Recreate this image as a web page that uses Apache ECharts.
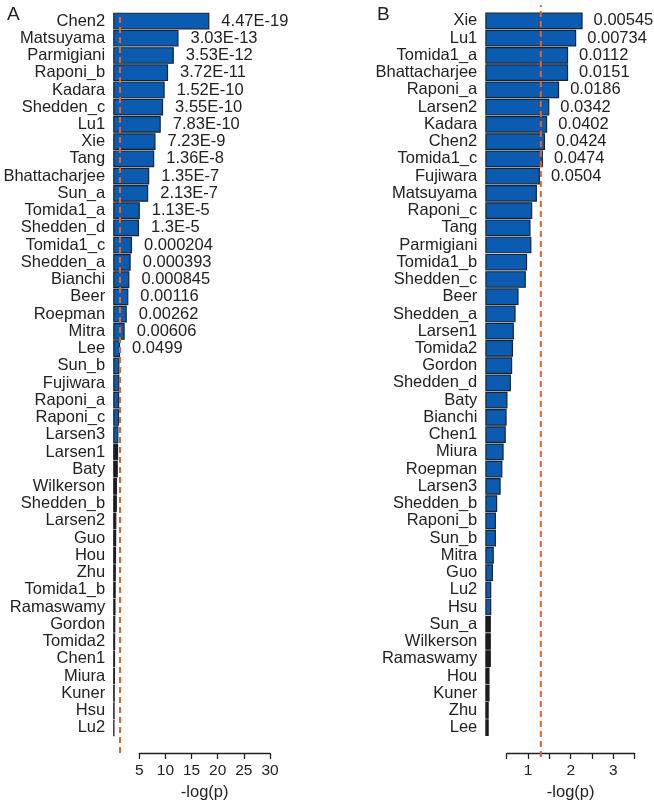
<!DOCTYPE html>
<html>
<head>
<meta charset="utf-8">
<script src="https://cdn.jsdelivr.net/npm/echarts@6/dist/echarts.min.js"></script>
<style>
html,body{margin:0;padding:0;background:#fff;}
#chart{width:654px;height:806px;}
</style>
</head>
<body>
<div id="chart"></div>
<script>
// ---- Panel A data ----
const categoriesA = ["Chen2","Matsuyama","Parmigiani","Raponi_b","Kadara","Shedden_c","Lu1","Xie","Tang","Bhattacharjee","Sun_a","Tomida1_a","Shedden_d","Tomida1_c","Shedden_a","Bianchi","Beer","Roepman","Mitra","Lee","Sun_b","Fujiwara","Raponi_a","Raponi_c","Larsen3","Larsen1","Baty","Wilkerson","Shedden_b","Larsen2","Guo","Hou","Zhu","Tomida1_b","Ramaswamy","Gordon","Tomida2","Chen1","Miura","Kuner","Hsu","Lu2"];
const valuesA = [18.4,12.5,11.6,10.5,9.85,9.55,9.1,8.1,7.85,6.9,6.7,5.1,4.95,3.6,3.35,3.1,2.9,2.6,2.2,1.32,1.2,1.18,1.15,1.13,1.0,0.95,0.88,0.72,0.7,0.6,0.58,0.55,0.5,0.48,0.45,0.4,0.38,0.36,0.34,0.3,0.28,0.25];
const pLabelsA = ["4.47E-19","3.03E-13","3.53E-12","3.72E-11","1.52E-10","3.55E-10","7.83E-10","7.23E-9","1.36E-8","1.35E-7","2.13E-7","1.13E-5","1.3E-5","0.000204","0.000393","0.000845","0.00116","0.00262","0.00606","0.0499"];
const blueCountA = 25;
const ticksA = {min:5, max:30, interval:5};

// ---- Panel B data ----
const categoriesB = ["Xie","Lu1","Tomida1_a","Bhattacharjee","Raponi_a","Larsen2","Kadara","Chen2","Tomida1_c","Fujiwara","Matsuyama","Raponi_c","Tang","Parmigiani","Tomida1_b","Shedden_c","Beer","Shedden_a","Larsen1","Tomida2","Gordon","Shedden_d","Baty","Bianchi","Chen1","Miura","Roepman","Larsen3","Shedden_b","Raponi_b","Sun_b","Mitra","Guo","Lu2","Hsu","Sun_a","Wilkerson","Ramaswamy","Hou","Kuner","Zhu","Lee"];
const valuesB = [2.28,2.13,1.94,1.94,1.73,1.5,1.45,1.4,1.35,1.28,1.21,1.1,1.06,1.08,0.98,0.95,0.78,0.71,0.67,0.65,0.63,0.6,0.52,0.5,0.48,0.43,0.4,0.36,0.28,0.25,0.25,0.2,0.18,0.14,0.14,0.13,0.13,0.13,0.1,0.1,0.08,0.08];
const pLabelsB = ["0.00545","0.00734","0.0112","0.0151","0.0186","0.0342","0.0402","0.0424","0.0474","0.0504"];
const blueCountB = 35;
const ticksB = {min:0.5, max:3.5, interval:0.5};

const threshold = 1.301; // -log10(0.05)
const axisTitle = "-log(p)";

// ---- styling ----
const FONT = "Liberation Sans, Arial, Helvetica, sans-serif";
const BLUE = "#0b5cb0";
const BLACK = "#1c1c1c";
const EDGE = "#1a2430";
const DASH = "#e0642e";
const TXT = "#222";

function barData(vals, blueCount){
  return vals.map((v,i)=>({value:v, itemStyle:{color: i<blueCount?BLUE:BLACK, borderColor: i<blueCount?EDGE:BLACK}}));
}

const chart = echarts.init(document.getElementById('chart'), null, {renderer:'canvas'});

const gA = {left:113.2, right:384, top:12.4, height:724};
const gB = {left:485.3, right:19.3, top:12.3, height:724};

const option = {
  animation:false,
  backgroundColor:'#fff',
  title:[
    {text:'A', left:2, top:0, textStyle:{fontFamily:FONT, fontSize:19, fontWeight:'normal', color:TXT}},
    {text:'B', left:372, top:0, textStyle:{fontFamily:FONT, fontSize:19, fontWeight:'normal', color:TXT}}
  ],
  grid:[
    gA,
    {left:139.3, right:384, top:12, bottom:806-757},
    {left:gA.left, right:gA.right, top:12.7, bottom:806-753},
    gB,
    {left:506.7, right:19.3, top:12, bottom:806-757},
    {left:gB.left, right:gB.right, top:5, bottom:806-757}
  ],
  xAxis:[
    {gridIndex:0, type:'value', min:0, max:30, show:false},
    {gridIndex:1, type:'value', min:ticksA.min, max:ticksA.max, interval:ticksA.interval,
     axisLine:{show:true, lineStyle:{color:TXT, width:1.3}},
     axisTick:{show:true, inside:false, length:6, lineStyle:{color:TXT, width:1.3}},
     axisLabel:{show:true, margin:10, fontFamily:FONT, fontSize:15.5, color:TXT},
     splitLine:{show:false},
     name:axisTitle, nameLocation:'middle', nameGap:31,
     nameTextStyle:{fontFamily:FONT, fontSize:16.5, color:TXT}},
    {gridIndex:2, type:'value', min:0, max:30, show:false},
    {gridIndex:3, type:'value', min:0, max:3.5, show:false},
    {gridIndex:4, type:'value', min:ticksB.min, max:ticksB.max, interval:ticksB.interval,
     axisLine:{show:true, lineStyle:{color:TXT, width:1.3}},
     axisTick:{show:true, inside:false, length:6, lineStyle:{color:TXT, width:1.3}},
     axisLabel:{show:true, margin:10, fontFamily:FONT, fontSize:15.5, color:TXT,
       formatter:v=> (Math.abs(v-Math.round(v))<1e-9 ? String(Math.round(v)) : '')},
     splitLine:{show:false},
     name:axisTitle, nameLocation:'middle', nameGap:31,
     nameTextStyle:{fontFamily:FONT, fontSize:16.5, color:TXT}},
    {gridIndex:5, type:'value', min:0, max:3.5, show:false}
  ],
  yAxis:[
    {gridIndex:0, type:'category', data:categoriesA, inverse:true,
     axisLine:{show:false}, axisTick:{show:false},
     axisLabel:{margin:8, fontFamily:FONT, fontSize:16.5, color:TXT, interval:0}},
    {gridIndex:1, type:'value', show:false},
    {gridIndex:2, type:'value', min:0, max:1, show:false},
    {gridIndex:3, type:'category', data:categoriesB, inverse:true,
     axisLine:{show:false}, axisTick:{show:false},
     axisLabel:{margin:8, fontFamily:FONT, fontSize:16.5, color:TXT, interval:0}},
    {gridIndex:4, type:'value', show:false},
    {gridIndex:5, type:'value', min:0, max:1, show:false}
  ],
  series:[
    {type:'bar', xAxisIndex:0, yAxisIndex:0, data:barData(valuesA, blueCountA),
     barCategoryGap:'3%', itemStyle:{borderWidth:1.2},
     label:{show:true, position:'right', distance:12, fontFamily:FONT, fontSize:16.5, color:TXT,
       formatter:p=> pLabelsA[p.dataIndex] || ''}},
    {type:'line', xAxisIndex:2, yAxisIndex:2, data:[[threshold,0],[threshold,1]],
     symbol:'none', lineStyle:{color:DASH, width:2, type:[6,4]}, z:5},
    {type:'bar', xAxisIndex:3, yAxisIndex:3, data:barData(valuesB, blueCountB),
     barCategoryGap:'3%', itemStyle:{borderWidth:1.2},
     label:{show:true, position:'right', distance:11, fontFamily:FONT, fontSize:16.5, color:TXT,
       formatter:p=> pLabelsB[p.dataIndex] || ''}},
    {type:'line', xAxisIndex:5, yAxisIndex:5, data:[[threshold,0],[threshold,1]],
     symbol:'none', lineStyle:{color:DASH, width:2, type:[6,4]}, z:5}
  ]
};
chart.setOption(option);
</script>
</body>
</html>
